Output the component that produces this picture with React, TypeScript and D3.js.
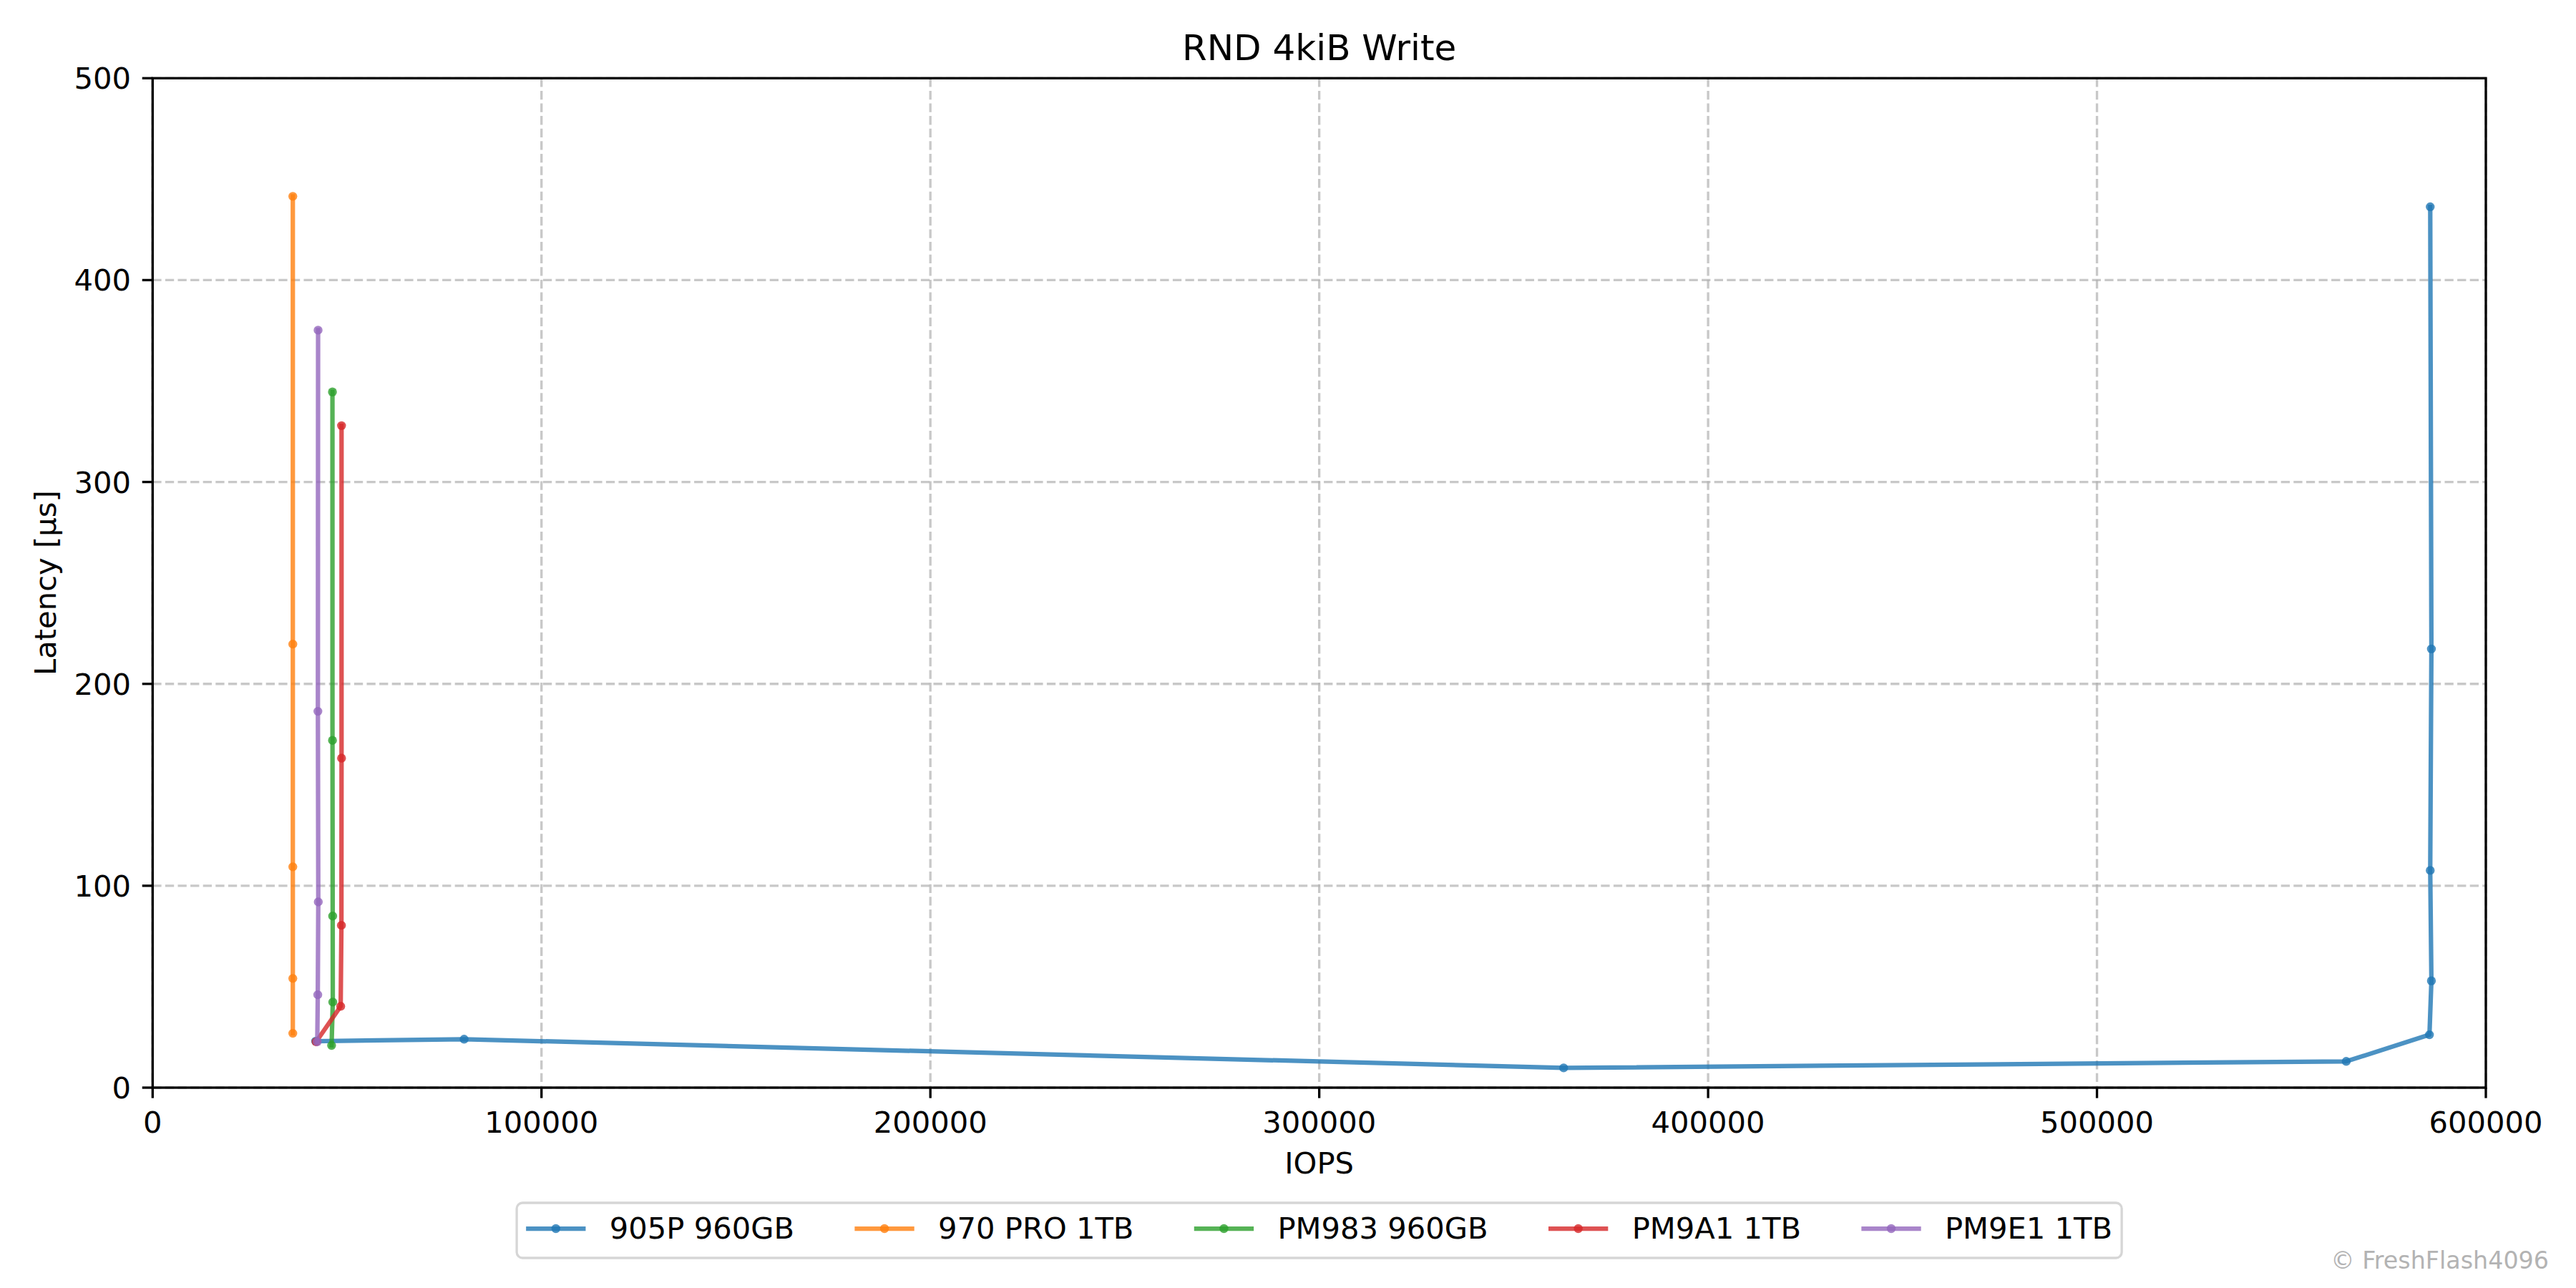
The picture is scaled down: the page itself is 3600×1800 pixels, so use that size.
import React from 'react';
import * as d3 from 'd3';

const seriesNames = ['905P 960GB', '970 PRO 1TB', 'PM983 960GB', 'PM9A1 1TB', 'PM9E1 1TB'];
const seriesColors = ['#1f77b4', '#ff7f0e', '#2ca02c', '#d62728', '#9467bd'];

const iops905P = [41900, 80100, 362850, 564100, 585500, 586000, 585700, 586000, 585700];
const lat905P = [23.0, 24.0, 9.8, 13.0, 26.2, 52.9, 107.6, 217.3, 436.3];

const iops970Pro = [36050, 36050, 36050, 36050, 36050];
const lat970Pro = [26.9, 54.1, 109.4, 219.7, 441.5];

const iopsPM983 = [46020, 46330, 46300, 46250, 46240];
const latPM983 = [20.9, 42.4, 85.0, 172.0, 344.6];

const iopsPM9A1 = [42040, 48360, 48550, 48580, 48580];
const latPM9A1 = [22.7, 40.3, 80.4, 163.2, 327.9];

const iopsPM9E1 = [42340, 42470, 42600, 42500, 42550];
const latPM9E1 = [22.7, 46.0, 92.0, 186.4, 375.2];

const xTicks = [0, 100000, 200000, 300000, 400000, 500000, 600000];
const yTicks = [0, 100, 200, 300, 400, 500];

const titleText = 'RND 4kiB Write';
const xLabel = 'IOPS';
const yLabel = 'Latency [µs]';
const watermark = '© FreshFlash4096';

const seriesIops = [iops905P, iops970Pro, iopsPM983, iopsPM9A1, iopsPM9E1];
const seriesLat = [lat905P, lat970Pro, latPM983, latPM9A1, latPM9E1];

const FONT = 'DejaVu Sans';
const FS = 41.667;

function measure(text: string, size: number): number {
  try {
    const c = document.createElement('canvas');
    const ctx = c.getContext('2d');
    if (ctx) {
      ctx.font = `${size}px "${FONT}"`;
      return ctx.measureText(text).width;
    }
  } catch (e) {}
  return text.length * size * 0.6;
}

export default function App() {
  const W = 3600;
  const H = 1800;
  const left = 213.3, right = 3474, top = 109.3, bottom = 1520;
  const x = d3.scaleLinear().domain([0, 600000]).range([left, right]);
  const y = d3.scaleLinear().domain([0, 500]).range([bottom, top]);
  const lineGen = d3.line<[number, number]>().x(d => x(d[0])).y(d => y(d[1]));

  const lw = 6.25;
  const markerR = 6.2;
  const tickLen = 14.6;
  const spineW = 3.33;

  // legend layout
  const handleLen = 2.0 * FS;
  const handlePad = 0.8 * FS;
  const boxPadX = 13;
  const targetBoxW = 2243;
  const widths = seriesNames.map(n => measure(n, FS));
  const entryWidths = widths.map(w => handleLen + handlePad + w);
  const sumEntries = entryWidths.reduce((a, b) => a + b, 0);
  let colSpace = (targetBoxW - 2 * boxPadX - sumEntries) / (seriesNames.length - 1);
  if (!(colSpace > 40 && colSpace < 130)) colSpace = 2.0 * FS;
  const innerW = sumEntries + colSpace * (seriesNames.length - 1);
  const boxW = innerW + 2 * boxPadX;
  const cx = (left + right) / 2;
  const boxX = cx - boxW / 2;
  const boxY = 1681;
  const boxH = 77;
  const legendY = 1717;
  let acc = boxX + boxPadX;
  const entryX = entryWidths.map(w => {
    const s = acc;
    acc += w + colSpace;
    return s;
  });

  return (
    <svg width={W} height={H} style={{ position: 'absolute', left: 0, top: 0, display: 'block', background: '#fff' }}
      fontFamily={FONT}>
      <rect x={0} y={0} width={W} height={H} fill="#ffffff" />
      {/* grid */}
      <g stroke="#b0b0b0" strokeOpacity={0.7} strokeWidth={3.33} strokeDasharray="12.3 5.3">
        {xTicks.map(t => (
          <line key={'gx' + t} x1={x(t)} x2={x(t)} y1={top} y2={bottom} />
        ))}
        {yTicks.map(t => (
          <line key={'gy' + t} x1={left} x2={right} y1={y(t)} y2={y(t)} />
        ))}
      </g>
      {/* series */}
      {seriesNames.map((name, i) => {
        const pts: [number, number][] = seriesIops[i].map((v, j) => [v, seriesLat[i][j]]);
        return (
          <g key={name}>
            <path d={lineGen(pts) || ''} fill="none" stroke={seriesColors[i]} strokeOpacity={0.8}
              strokeWidth={lw} strokeLinejoin="round" strokeLinecap="square" />
            {pts.map((p, j) => (
              <circle key={j} cx={x(p[0])} cy={y(p[1])} r={markerR} fill={seriesColors[i]} fillOpacity={0.8} />
            ))}
          </g>
        );
      })}
      {/* spines */}
      <rect x={left} y={top} width={right - left} height={bottom - top} fill="none" stroke="#000" strokeWidth={spineW} />
      {/* x ticks */}
      {xTicks.map(t => (
        <g key={'xt' + t}>
          <line x1={x(t)} x2={x(t)} y1={bottom} y2={bottom + tickLen} stroke="#000" strokeWidth={spineW} />
          <text x={x(t)} y={1582.5} textAnchor="middle" fontSize={FS} fill="#000">{String(t)}</text>
        </g>
      ))}
      {/* y ticks */}
      {yTicks.map(t => (
        <g key={'yt' + t}>
          <line x1={left - tickLen} x2={left} y1={y(t)} y2={y(t)} stroke="#000" strokeWidth={spineW} />
          <text x={left - 2 * tickLen - 1} y={y(t) + 15} textAnchor="end" fontSize={FS} fill="#000">{String(t)}</text>
        </g>
      ))}
      {/* labels */}
      <text x={cx} y={84.3} textAnchor="middle" fontSize={50} fill="#000">{titleText}</text>
      <text x={cx} y={1640} textAnchor="middle" fontSize={FS} fill="#000">{xLabel}</text>
      <text transform={`translate(78,${(top + bottom) / 2}) rotate(-90)`} textAnchor="middle" fontSize={FS} fill="#000">{yLabel}</text>
      {/* legend */}
      <rect x={boxX} y={boxY} width={boxW} height={boxH} rx={8} ry={8} fill="#ffffff" fillOpacity={0.8}
        stroke="#cccccc" strokeOpacity={0.8} strokeWidth={3.33} />
      {seriesNames.map((name, i) => {
        const ex = entryX[i];
        return (
          <g key={'lg' + name}>
            <line x1={ex} x2={ex + handleLen} y1={legendY} y2={legendY} stroke={seriesColors[i]} strokeOpacity={0.8} strokeWidth={lw} />
            <circle cx={ex + handleLen / 2} cy={legendY} r={markerR} fill={seriesColors[i]} fillOpacity={0.8} />
            <text x={ex + handleLen + handlePad} y={1731} fontSize={FS} fill="#000">{name}</text>
          </g>
        );
      })}
      <text x={3562} y={1773} textAnchor="end" fontSize={33.33} fill="#b3b3b3">{watermark}</text>
    </svg>
  );
}
